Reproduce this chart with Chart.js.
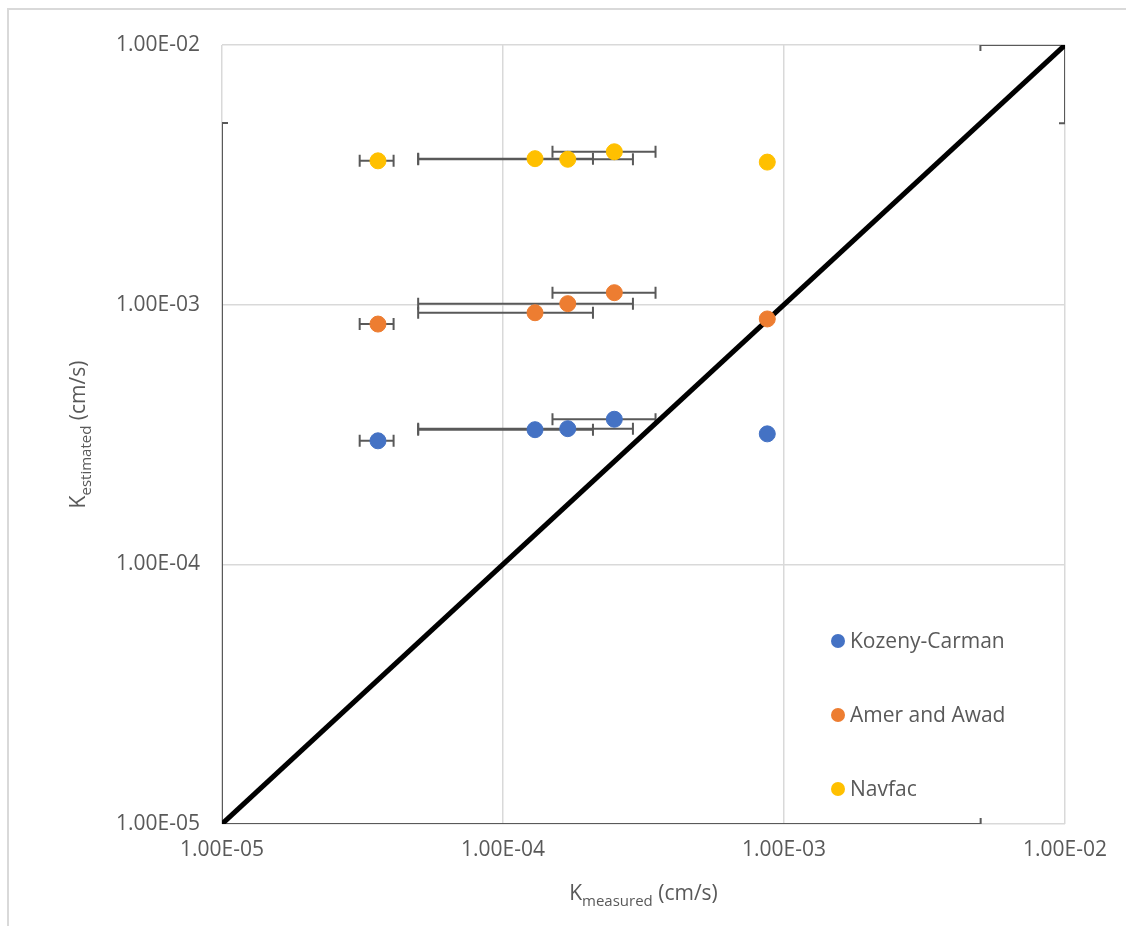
<!DOCTYPE html>
<html>
<head>
<meta charset="utf-8">
<script src="https://cdn.jsdelivr.net/npm/chart.js@4"></script>
<style>
  body { margin: 0; background: #fff; }
  canvas { display: block; }
</style>
</head>
<body>
<canvas id="chart" width="1126" height="926"></canvas>
<script>
// measured permeability (x) and its range
const measured = [3.59e-5, 1.30e-4, 1.70e-4, 2.49e-4, 8.72e-4];
const measuredLow = [3.09e-5, 4.99e-5, 4.99e-5, 1.50e-4, null];
const measuredHigh = [4.08e-5, 2.09e-4, 2.90e-4, 3.49e-4, null];

// estimated permeability per method
const kozeny = [2.99e-4, 3.30e-4, 3.33e-4, 3.62e-4, 3.18e-4];
const amer = [8.42e-4, 9.31e-4, 1.009e-3, 1.112e-3, 8.81e-4];
const navfac = [3.58e-3, 3.65e-3, 3.63e-3, 3.88e-3, 3.54e-3];

// 1:1 line
const lineX = [1e-5, 1e-2];
const lineY = [1e-5, 1e-2];
const lineErr = 5e-3;

const tickValues = [1e-5, 1e-4, 1e-3, 1e-2];
const tickLabels = ["1.00E-05", "1.00E-04", "1.00E-03", "1.00E-02"];

const FONT = "'Open Sans', 'DejaVu Sans', sans-serif";
const TEXT = "#595959";

function points(xs, ys) {
  return xs.map((x, i) => ({ x: x, y: ys[i] }));
}

function methodSet(label, values, color) {
  return {
    label: label,
    data: points(measured, values),
    xLow: measuredLow,
    xHigh: measuredHigh,
    backgroundColor: color,
    borderColor: color,
    pointRadius: 8,
    pointHoverRadius: 8,
    showLine: false
  };
}

const errorBars = {
  id: "errorBars",
  beforeDatasetsDraw(chart) {
    const ctx = chart.ctx;
    const xs = chart.scales.x, ys = chart.scales.y;
    const area = chart.chartArea;
    ctx.save();
    ctx.beginPath();
    ctx.rect(area.left, area.top, area.right - area.left, area.bottom - area.top);
    ctx.clip();
    ctx.strokeStyle = "#595959";
    ctx.lineWidth = 2;
    const cap = 6;

    function hSeg(x0, x1, y, capEnd) {
      ctx.beginPath();
      ctx.moveTo(x0, y); ctx.lineTo(x1, y);
      if (capEnd) { ctx.moveTo(x1, y - cap); ctx.lineTo(x1, y + cap); }
      ctx.stroke();
    }
    function vSeg(x, y0, y1, capEnd) {
      ctx.beginPath();
      ctx.moveTo(x, y0); ctx.lineTo(x, y1);
      if (capEnd) { ctx.moveTo(x - cap, y1); ctx.lineTo(x + cap, y1); }
      ctx.stroke();
    }

    chart.data.datasets.forEach(ds => {
      ds.data.forEach((p, i) => {
        const px = xs.getPixelForValue(p.x);
        const py = ys.getPixelForValue(p.y);
        if (ds.xLow && ds.xLow[i] != null) {
          hSeg(px, xs.getPixelForValue(ds.xLow[i]), py, true);
          hSeg(px, xs.getPixelForValue(ds.xHigh[i]), py, true);
        }
        if (ds.err) {
          const lo = p.x - ds.err, hi = p.x + ds.err;
          if (lo > 0) hSeg(px, xs.getPixelForValue(lo), py, true);
          hSeg(px, xs.getPixelForValue(hi), py, true);
          const ylo = p.y - ds.err, yhi = p.y + ds.err;
          if (ylo > 0) vSeg(px, py, ys.getPixelForValue(ylo), true);
          vSeg(px, py, ys.getPixelForValue(yhi), true);
        }
      });
    });
    ctx.restore();
  }
};

const decor = {
  id: "decor",
  beforeDraw(chart) {
    const ctx = chart.ctx;
    ctx.save();
    ctx.fillStyle = "#fff";
    ctx.fillRect(0, 0, chart.width, chart.height);
    ctx.strokeStyle = "#d9d9d9";
    ctx.lineWidth = 2;
    ctx.beginPath();
    ctx.moveTo(8, chart.height);
    ctx.lineTo(8, 9);
    ctx.lineTo(chart.width, 9);
    ctx.stroke();
    ctx.restore();
  },
  afterDraw(chart) {
    const ctx = chart.ctx;
    const area = chart.chartArea;
    ctx.save();
    ctx.fillStyle = TEXT;
    ctx.textBaseline = "alphabetic";

    // axis titles with subscripts
    function title(sub, cx, cy, rotate) {
      ctx.save();
      ctx.translate(cx, cy);
      if (rotate) ctx.rotate(-Math.PI / 2);
      const big = "21px " + FONT, small = "15px " + FONT;
      ctx.font = big;
      const wK = ctx.measureText("K").width;
      const wR = ctx.measureText(" (cm/s)").width;
      ctx.font = small;
      const wS = ctx.measureText(sub).width;
      let x = -(wK + wS + wR) / 2;
      ctx.textAlign = "left";
      ctx.font = big;
      ctx.fillText("K", x, 7);
      x += wK;
      ctx.font = small;
      ctx.fillText(sub, x, 13);
      x += wS;
      ctx.font = big;
      ctx.fillText(" (cm/s)", x, 7);
      ctx.restore();
    }
    title("measured", (area.left + area.right) / 2, 893, false);
    title("estimated", 78, (area.top + area.bottom) / 2, true);

    // legend (method series only)
    ctx.font = "21px " + FONT;
    ctx.textAlign = "left";
    ctx.textBaseline = "middle";
    chart.data.datasets.slice(0, 3).forEach((ds, i) => {
      const y = 641 + i * 74;
      ctx.fillStyle = ds.backgroundColor;
      ctx.beginPath();
      ctx.arc(838, y, 7, 0, Math.PI * 2);
      ctx.fill();
      ctx.fillStyle = TEXT;
      ctx.fillText(ds.label, 850, y + 1);
    });
    ctx.restore();
  }
};

new Chart(document.getElementById("chart"), {
  type: "scatter",
  data: {
    datasets: [
      methodSet("Kozeny-Carman", kozeny, "#4472C4"),
      methodSet("Amer and Awad", amer, "#ED7D31"),
      methodSet("Navfac", navfac, "#FFC000"),
      {
        label: "1:1",
        data: points(lineX, lineY),
        err: lineErr,
        showLine: true,
        borderColor: "#000",
        borderWidth: 5,
        pointRadius: 0,
        pointHoverRadius: 0
      }
    ]
  },
  options: {
    responsive: false,
    animation: false,
    layout: { padding: { left: 0, top: 45, right: 61, bottom: 0 } },
    plugins: {
      legend: { display: false },
      tooltip: { enabled: false }
    },
    scales: {
      x: {
        type: "logarithmic",
        min: 1e-5,
        max: 1e-2,
        afterBuildTicks: s => { s.ticks = tickValues.map(v => ({ value: v })); },
        afterFit: s => { s.height = 102; },
        ticks: {
          callback: (v, i) => tickLabels[i],
          color: TEXT,
          font: { family: FONT, size: 21 },
          padding: 13,
          maxRotation: 0,
          autoSkip: false
        },
        grid: { color: "#d9d9d9", lineWidth: 1.5, drawTicks: false },
        border: { display: false }
      },
      y: {
        type: "logarithmic",
        min: 1e-5,
        max: 1e-2,
        afterBuildTicks: s => { s.ticks = tickValues.map(v => ({ value: v })); },
        afterFit: s => { s.width = 222; },
        ticks: {
          callback: (v, i) => tickLabels[i],
          color: TEXT,
          font: { family: FONT, size: 21 },
          padding: 22,
          autoSkip: false
        },
        grid: { color: "#d9d9d9", lineWidth: 1.5, drawTicks: false },
        border: { display: false }
      }
    }
  },
  plugins: [decor, errorBars]
});
</script>
</body>
</html>
